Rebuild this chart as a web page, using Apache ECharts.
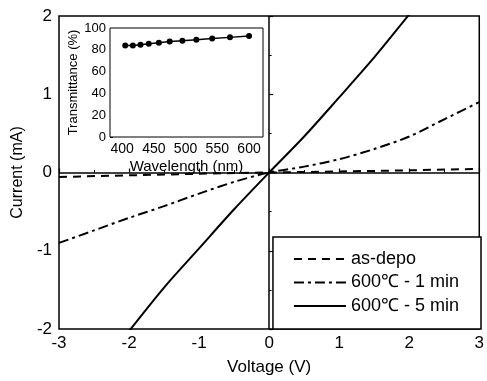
<!DOCTYPE html>
<html>
<head>
<meta charset="utf-8">
<script src="https://cdn.jsdelivr.net/npm/echarts@6/dist/echarts.min.js"></script>
<style>
  html, body { margin: 0; padding: 0; background: #fff; }
  #chart { width: 487px; height: 381px; }
</style>
</head>
<body>
<div id="chart"></div>
<script>
// I-V curves (voltage in V, current in mA)
const asDepo = [[-3, -0.057], [-2, -0.036], [-1, -0.016], [0, 0], [1, 0.013], [2, 0.028], [3, 0.047]];
const anneal1 = [[-3, -0.9], [-2.5, -0.74], [-2, -0.58], [-1.5, -0.43], [-1, -0.27], [-0.5, -0.12],
  [0, 0], [0.5, 0.075], [1, 0.17], [1.5, 0.3], [2, 0.46], [2.5, 0.68], [3, 0.9]];
const anneal5 = [[-2.1, -2.14], [-1.5, -1.47], [-1, -0.97], [-0.5, -0.47], [0, 0],
  [0.5, 0.46], [1, 0.96], [1.5, 1.47], [2, 2.02], [2.1, 2.13]];

// inset: transmittance vs wavelength
const wavelength = [405, 417, 429, 442, 458, 475, 495, 517, 542, 570, 600];
const transmit = [84.0, 84.0, 84.6, 85.6, 86.5, 87.7, 88.3, 89.2, 90.4, 91.4, 92.6];
const insetTicks = [400, 450, 500, 550, 600];

const names = ['as-depo', '600\u2103 - 1 min', '600\u2103 - 5 min'];
const font = "'Liberation Sans', Arial, sans-serif";

const chart = echarts.init(document.getElementById('chart'));

const option = {
  animation: false,
  backgroundColor: '#fff',
  textStyle: { fontFamily: font, color: '#000' },
  grid: [
    { left: 59, top: 16, right: 5, bottom: 50, show: true, borderColor: '#000', borderWidth: 1.5 },
    { left: 110, top: 28, right: 224, bottom: 244, show: true, borderColor: '#000', borderWidth: 1, backgroundColor: '#fff', z: 5 }
  ],
  legend: {
    data: names,
    orient: 'vertical',
    right: 6,
    bottom: 52,
    itemWidth: 52,
    itemHeight: 14,
    itemGap: 5.5,
    padding: [13, 22, 14, 20],
    borderColor: '#000',
    borderWidth: 1.5,
    backgroundColor: '#fff',
    itemStyle: { color: 'rgba(0,0,0,0)', borderWidth: 0, opacity: 0 },
    textStyle: { fontFamily: font, fontSize: 18, color: '#000', lineHeight: 18 }
  },
  xAxis: [
    {
      gridIndex: 0, type: 'value', min: -3, max: 3, interval: 1,
      name: 'Voltage (V)', nameLocation: 'middle', nameGap: 30,
      nameTextStyle: { fontSize: 17, color: '#000' },
      axisLine: { show: false },
      axisTick: { inside: true, length: 4, lineStyle: { color: '#000', width: 1.2 } },
      minorTick: { show: true, splitNumber: 2, length: 2.5, lineStyle: { color: '#000' } },
      axisLabel: { fontSize: 17, color: '#000', margin: 6 },
      splitLine: { show: false }
    },
    {
      gridIndex: 1, type: 'value', min: 381, max: 622,
      name: 'Wavelength (nm)', nameLocation: 'middle', nameGap: 22,
      nameTextStyle: { fontSize: 15, color: '#000' },
      axisLine: { show: false },
      axisTick: { inside: true, length: 3, customValues: insetTicks, lineStyle: { color: '#000' } },
      axisLabel: { fontSize: 14, color: '#000', margin: 5, customValues: insetTicks },
      splitLine: { show: false }
    }
  ],
  yAxis: [
    {
      gridIndex: 0, type: 'value', min: -2, max: 2, interval: 1,
      name: 'Current (mA)', nameLocation: 'middle', nameGap: 33,
      nameTextStyle: { fontSize: 16, color: '#000' },
      axisLine: { show: false },
      axisTick: { inside: true, length: 4, lineStyle: { color: '#000', width: 1.2 } },
      minorTick: { show: true, splitNumber: 2, length: 2.5, lineStyle: { color: '#000' } },
      axisLabel: { fontSize: 17, color: '#000', margin: 7 },
      splitLine: { show: false }
    },
    {
      gridIndex: 1, type: 'value', min: 0, max: 100, interval: 20,
      name: 'Transmittance (%)', nameLocation: 'middle', nameGap: 30,
      nameTextStyle: { fontSize: 13, color: '#000' },
      axisLine: { show: false },
      axisTick: { inside: true, length: 3, lineStyle: { color: '#000' } },
      axisLabel: { fontSize: 13, color: '#000', margin: 4 },
      splitLine: { show: false }
    }
  ],
  series: [
    {
      name: names[0], type: 'line', data: asDepo, symbol: 'none',
      lineStyle: { color: '#000', width: 2, type: [8, 6] },
      itemStyle: { color: '#000' },
      markLine: {
        silent: true, symbol: ['none', 'none'], label: { show: false },
        lineStyle: { color: '#000', width: 1.5, type: 'solid' },
        data: [{ xAxis: 0 }, { yAxis: 0 }]
      }
    },
    {
      name: names[1], type: 'line', data: anneal1, symbol: 'none', smooth: 0.3,
      lineStyle: { color: '#000', width: 2, type: [10, 4, 3, 4] },
      itemStyle: { color: '#000' }
    },
    {
      name: names[2], type: 'line', data: anneal5, symbol: 'none', smooth: 0.3,
      lineStyle: { color: '#000', width: 2 },
      itemStyle: { color: '#000' }
    },
    {
      name: 'Transmittance', type: 'line', xAxisIndex: 1, yAxisIndex: 1, z: 6,
      data: wavelength.map((w, i) => [w, transmit[i]]),
      symbol: 'circle', symbolSize: 6,
      lineStyle: { color: '#000', width: 1.5 },
      itemStyle: { color: '#000' }
    }
  ]
};

chart.setOption(option);
</script>
</body>
</html>
